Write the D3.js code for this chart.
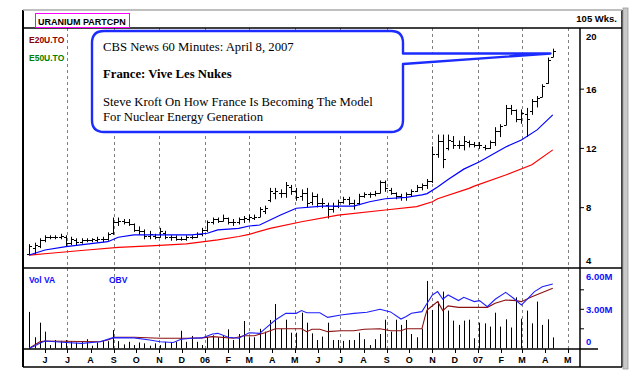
<!DOCTYPE html>
<html>
<head>
<meta charset="utf-8">
<script src="https://d3js.org/d3.v7.min.js"></script>
<style>
  body { margin: 0; background: #fff; }
  text { font-family: "Liberation Sans", Arial, sans-serif; }
  .serif { font-family: "Liberation Serif", "Times New Roman", serif; }
</style>
</head>
<body>
<svg id="chart" width="644" height="384"></svg>
<script>
// weekly bars, first one dated 11 May 2005
const firstWeek = new Date(2005, 4, 11);

const opens  = [4.9,5.3,5.4,5.8,6.0,6.0,6.0,6.0,5.6,5.8,5.7,5.8,5.8,5.8,5.9,5.9,6.3,7.0,7.1,7.0,
                6.9,6.5,6.4,6.1,6.1,6.0,6.3,6.0,6.0,5.9,5.9,6.0,6.0,6.2,6.5,7.0,7.2,7.1,7.3,7.0,
                7.0,7.2,7.2,7.3,7.4,7.8,8.5,9.0,9.0,9.0,9.4,9.1,8.8,9.0,8.4,8.8,8.3,8.2,7.9,8.1,
                8.4,8.6,8.3,8.3,8.8,8.9,8.9,9.0,9.7,9.2,9.0,8.8,8.7,8.9,9.1,9.4,9.5,9.8,11.6,12.5,
                12.0,12.5,12.2,12.2,12.4,12.3,12.2,12.1,12.0,12.4,13.2,13.6,14.7,14.6,14.0,14.3,14.5,15.2,15.5,16.4,
                18.2];
const highs  = [5.5,5.6,5.9,6.1,6.1,6.1,6.2,6.1,6.0,5.9,5.9,5.9,5.9,6.0,6.0,6.3,7.3,7.3,7.2,7.2,
                6.9,6.7,6.5,6.4,6.2,6.6,6.4,6.1,6.1,6.0,6.1,6.1,6.3,6.6,7.1,7.3,7.3,7.5,7.3,7.2,
                7.3,7.4,7.5,7.5,8.0,8.1,9.3,9.3,9.2,9.7,9.5,9.3,9.2,9.3,9.0,8.9,8.6,8.3,8.3,8.5,
                8.7,8.7,8.5,8.9,9.0,9.0,9.1,9.8,9.8,9.3,9.0,8.9,9.0,9.2,9.5,9.6,9.9,12.1,12.9,12.9,
                12.9,12.8,12.5,12.8,12.5,12.4,12.4,12.2,12.5,13.4,13.6,14.9,14.9,14.6,14.6,14.7,15.3,15.5,16.3,18.1,
                18.7];
const lows   = [4.8,4.9,5.3,5.7,5.9,5.9,5.9,5.4,5.5,5.5,5.6,5.7,5.7,5.7,5.7,5.8,6.2,6.8,6.9,6.8,
                6.4,6.2,5.9,5.9,5.9,6.0,5.9,5.8,5.8,5.8,5.8,5.9,6.0,6.1,6.4,6.9,7.0,7.1,6.9,6.8,
                6.9,7.0,7.1,7.2,7.4,7.6,8.4,8.6,8.7,8.7,8.9,8.5,8.5,8.05,8.2,8.05,8.0,7.3,7.7,8.0,
                8.3,8.2,7.9,8.2,8.7,8.7,8.8,9.0,9.1,8.9,8.6,8.5,8.5,8.8,9.1,9.2,9.3,9.7,11.4,10.7,
                11.9,12.0,12.0,11.9,12.1,12.1,12.0,11.9,12.0,12.2,12.8,13.6,14.3,13.8,13.7,12.8,14.3,14.8,15.5,16.4,
                18.2];
const closes = [5.4,5.5,5.8,6.0,6.0,6.0,6.1,5.6,5.9,5.7,5.8,5.8,5.9,5.9,5.9,6.2,7.0,7.1,7.0,6.9,
                6.5,6.4,6.1,6.2,6.0,6.4,6.0,6.0,5.9,5.9,6.0,6.0,6.2,6.5,7.0,7.2,7.1,7.3,7.0,7.0,
                7.2,7.3,7.4,7.4,7.9,8.0,9.1,9.1,9.0,9.5,9.1,8.7,9.0,8.3,8.8,8.3,8.3,7.9,8.1,8.4,
                8.6,8.3,8.2,8.8,8.9,8.9,9.0,9.7,9.3,9.0,8.8,8.7,8.9,9.1,9.4,9.5,9.8,11.6,12.5,11.3,
                12.6,12.2,12.2,12.5,12.3,12.2,12.2,12.0,12.4,13.2,13.5,14.7,14.6,14.0,14.4,14.0,15.2,15.4,16.2,18.0,
                18.6];

// weekly volume, millions
const volumes = [2.8,0.85,1.97,1.28,0.25,0.64,0.55,0.64,0.55,0.45,0.55,0.7,0.2,0.45,0.55,0.55,1.4,0.55,0.3,0.5,
                 0.25,0.45,0.38,0.2,0.38,0.25,0.5,0.45,0.5,1.35,0.5,0.95,0.5,0.25,0.85,1.0,0.85,1.0,1.46,0.64,
                 1.1,2.1,0.85,0.85,1.5,1.28,2.18,3.41,1.5,2.2,1.2,1.2,2.74,1.97,1.15,0.64,0.9,1.97,0.64,0.64,
                 0.57,0.64,0.64,1.2,0.7,0.25,0.7,1.1,2.2,1.28,2.2,1.8,2.18,1.1,0.85,1.5,5.18,2.95,3.59,4.36,
                 2.9,2.13,1.8,2.13,2.2,0.77,1.97,1.92,1.67,2.74,1.67,2.23,1.6,3.92,2.28,2.9,1.92,3.59,1.8,2.23,
                 0.84];

// moving averages (week index, price)
const ema20Weeks  = [0,3,7,15,17,20,25,31,34,36,40,42,44,48,51,56,62,65,68,72,75,76,78,80,83,86,91,94,97,100];
const ema20Values = [4.8,5.14,5.37,5.7,6.0,6.16,6.16,6.16,6.27,6.5,6.6,6.76,6.83,7.5,7.96,8.1,8.1,8.4,8.6,8.7,8.86,8.95,9.4,9.9,10.6,11.1,12.1,12.57,13.25,14.26];
const ema50Weeks  = [0,4,11,17,24,30,36,40,42,46,52,59,68,74,77,78,84,85,91,96,100];
const ema50Values = [4.8,4.92,5.14,5.32,5.43,5.55,5.82,6.05,6.2,6.6,7.05,7.5,7.84,8.07,8.4,8.6,9.3,9.45,10.2,10.9,11.9];

// volume panel indicators, in volume-axis units (week index, value)
const obvWeeks  = [0,1,2,3,5,7,10,13.5,16,20,23,25,27.5,29,31,33,35,36,38,40,42,44,45,47,49,51,52,53,55.5,57,59.5,62,64.5,67,69,71,72,73,75,76,77,78,79,80,82,83,85,86,87.5,89,91,92.5,94,95,96.5,98,100];
const obvValues = [0,0.18,0.38,0.56,0.5,0.45,0.38,0.5,0.82,0.8,0.64,0.5,0.45,0.7,0.77,0.8,1.1,1.15,0.85,0.77,1.2,1.15,1.5,2.18,2.69,2.69,2.9,2.74,2.74,2.38,2.56,2.69,2.77,3.0,2.8,2.25,2.44,2.69,2.82,3.46,4.1,4.36,3.77,4.1,3.67,3.92,3.59,3.67,3.2,3.77,4.3,3.85,3.33,3.72,4.36,4.74,4.95];
const vaWeeks  = [0,2,3,13.5,15,16.4,20,25,30,33,35,39,41,43,45,47,52,53,54,55.5,57,59.5,62,64,67,69,71,72,75,75.6,76,78,79,80,82,85,87.5,89,91,93,94,96,98,100];
const vaValues = [0,0.5,0.56,0.5,0.64,0.85,0.85,0.77,0.77,0.8,0.9,0.77,0.97,0.97,1.2,1.5,1.5,1.28,1.46,1.46,1.28,1.35,1.35,1.46,1.5,1.35,1.35,1.5,1.5,2.44,2.95,3.59,2.9,3.26,3.15,3.15,3.15,3.46,3.72,3.67,3.59,3.97,4.3,4.62];

const priceTicks = [20, 16, 12, 8, 4];
const volTicks = [6, 3, 0];
const volTickLabels = ["6.00M", "3.00M", "0"];
const monthLabels = ["J","J","A","S","O","N","D","06","F","M","A","M","J","J","A","S","O","N","D","07","F","M","A","M"];
const firstMonth = new Date(2005, 5, 1);

const calloutLines = [
  {text: "CBS News 60 Minutes: April 8, 2007", bold: false},
  {text: "France: Vive Les Nukes", bold: true},
  {text: "Steve Kroft On How France Is Becoming The Model", bold: false},
  {text: "For Nuclear Energy Generation", bold: false}
];

var svg = d3.select("#chart");

// frame geometry
var left = 23, axisX = 580, right = 622;
var headTop = 10, priceTop = 28, priceBottom = 268, volBottom = 349, frameBottom = 367;

var x = d3.scaleTime()
  .domain([firstMonth, new Date(2007, 0, 1)])
  .range([45, 478]);
var y = d3.scaleLinear().domain([4, 20]).range([266.9, 29.9]);
var yv = d3.scaleLinear().domain([0, 6]).range([348.3, 270.3]);

function weekDate(i) {
  return new Date(firstWeek.getTime() + i * 7 * 864e5);
}
function wx(i) {
  return Math.round(x(weekDate(i))) + 0.5;
}

// gridlines every other month
var months = d3.range(monthLabels.length).map(function(k) {
  return d3.timeMonth.offset(firstMonth, k);
});
svg.append("g").selectAll("line")
  .data(months.filter(function(d, k) { return k % 2 == 1; }))
  .enter().append("line")
  .attr("x1", function(d) { return Math.round(x(d)) + 0.5; })
  .attr("x2", function(d) { return Math.round(x(d)) + 0.5; })
  .attr("y1", priceTop)
  .attr("y2", volBottom)
  .attr("stroke", "#808080")
  .attr("stroke-dasharray", "3,3");

// price bars
var bars = svg.append("g").attr("stroke", "#000").attr("stroke-width", 1);
closes.forEach(function(c, i) {
  var cx = wx(i);
  bars.append("line").attr("x1", cx).attr("x2", cx)
    .attr("y1", y(highs[i]) - 0.5).attr("y2", y(lows[i]) + 0.5);
  bars.append("line").attr("x1", cx - 2.5).attr("x2", cx)
    .attr("y1", Math.round(y(opens[i])) + 0.5).attr("y2", Math.round(y(opens[i])) + 0.5);
  bars.append("line").attr("x1", cx).attr("x2", cx + 2.5)
    .attr("y1", Math.round(y(c)) + 0.5).attr("y2", Math.round(y(c)) + 0.5);
});

// moving averages
var priceLine = d3.line()
  .x(function(d) { return x(weekDate(d[0])); })
  .y(function(d) { return y(d[1]); });
svg.append("path")
  .datum(d3.zip(ema50Weeks, ema50Values))
  .attr("d", priceLine)
  .attr("fill", "none").attr("stroke", "#ff0000").attr("stroke-width", 1.2);
svg.append("path")
  .datum(d3.zip(ema20Weeks, ema20Values))
  .attr("d", priceLine)
  .attr("fill", "none").attr("stroke", "#0000ff").attr("stroke-width", 1.2);

// volume bars
svg.append("g").selectAll("line")
  .data(volumes)
  .enter().append("line")
  .attr("x1", function(d, i) { return wx(i); })
  .attr("x2", function(d, i) { return wx(i); })
  .attr("y1", function(d) { return yv(d); })
  .attr("y2", yv(0))
  .attr("stroke", "#000");

var volLine = d3.line()
  .x(function(d) { return x(weekDate(d[0])); })
  .y(function(d) { return yv(d[1]); });
svg.append("path")
  .datum(d3.zip(vaWeeks, vaValues))
  .attr("d", volLine)
  .attr("fill", "none").attr("stroke", "#8b1010").attr("stroke-width", 1.1);
svg.append("path")
  .datum(d3.zip(obvWeeks, obvValues))
  .attr("d", volLine)
  .attr("fill", "none").attr("stroke", "#2020ff").attr("stroke-width", 1.1);

// frame lines
var frame = svg.append("g").attr("stroke", "#000").attr("stroke-width", 1.5);
frame.append("line").attr("x1", left).attr("x2", right).attr("y1", priceTop).attr("y2", priceTop);
frame.append("line").attr("x1", left).attr("x2", right).attr("y1", priceBottom).attr("y2", priceBottom);
frame.append("line").attr("x1", left).attr("x2", axisX + 18).attr("y1", volBottom).attr("y2", volBottom);
frame.append("line").attr("x1", left).attr("x2", right).attr("y1", frameBottom).attr("y2", frameBottom);
frame.append("line").attr("x1", left).attr("x2", left).attr("y1", headTop).attr("y2", frameBottom)
  .attr("stroke-width", 2);
frame.append("line").attr("x1", axisX).attr("x2", axisX).attr("y1", priceTop).attr("y2", frameBottom);
frame.append("line").attr("x1", right).attr("x2", right).attr("y1", headTop).attr("y2", frameBottom);
svg.append("line").attr("x1", left).attr("x2", right).attr("y1", headTop).attr("y2", headTop)
  .attr("stroke", "#aaa").attr("stroke-width", 1.5);
svg.append("rect").attr("x", 623).attr("y", headTop - 2).attr("width", 5).attr("height", frameBottom - headTop + 4)
  .attr("fill", "#c8c8c8").attr("stroke", "#999").attr("stroke-width", 0.8);

// month ticks and labels
var xAxis = svg.append("g");
xAxis.selectAll("line").data(months).enter().append("line")
  .attr("x1", function(d) { return Math.round(x(d)) + 0.5; })
  .attr("x2", function(d) { return Math.round(x(d)) + 0.5; })
  .attr("y1", volBottom).attr("y2", volBottom + 4)
  .attr("stroke", "#000");
xAxis.selectAll("text").data(months).enter().append("text")
  .attr("x", function(d) { return x(d); })
  .attr("y", 363)
  .attr("text-anchor", "middle")
  .attr("font-size", 9).attr("font-weight", "bold")
  .text(function(d, k) { return monthLabels[k]; });

// right price axis
var pAxis = svg.append("g");
pAxis.selectAll("line").data(priceTicks.filter(function(d) { return d > 4 && d < 20; }))
  .enter().append("line")
  .attr("x1", axisX).attr("x2", axisX + 4)
  .attr("y1", function(d) { return y(d); }).attr("y2", function(d) { return y(d); })
  .attr("stroke", "#000");
pAxis.selectAll("text").data(priceTicks).enter().append("text")
  .attr("x", 586)
  .attr("y", function(d) { return Math.min(Math.max(y(d), 36), 260) + 3.5; })
  .attr("font-size", 9.5).attr("font-weight", "bold")
  .text(function(d) { return d; });

// right volume axis
var vAxis = svg.append("g");
vAxis.selectAll("line").data([1.5, 3, 4.5]).enter().append("line")
  .attr("x1", axisX).attr("x2", axisX + 4)
  .attr("y1", function(d) { return yv(d); }).attr("y2", function(d) { return yv(d); })
  .attr("stroke", "#000");
vAxis.selectAll("text").data(volTicks).enter().append("text")
  .attr("x", 586)
  .attr("y", function(d) { return Math.min(Math.max(yv(d), 276), 341) + 3.5; })
  .attr("font-size", 9.5).attr("font-weight", "bold").attr("fill", "#1010ff")
  .text(function(d, k) { return volTickLabels[k]; });

// header
svg.append("rect").attr("x", 35.5).attr("y", 13.5).attr("width", 94).attr("height", 14)
  .attr("fill", "none").attr("stroke", "#ff00ff").attr("stroke-width", 1);
svg.append("text").attr("x", 38).attr("y", 24.5)
  .attr("font-size", 9).attr("font-weight", "bold").text("URANIUM PARTCPN");
svg.append("text").attr("x", 617).attr("y", 22).attr("text-anchor", "end")
  .attr("font-size", 9.5).attr("font-weight", "bold").text("105 Wks.");

// legends
svg.append("text").attr("x", 29).attr("y", 43).attr("font-size", 8.5).attr("font-weight", "bold")
  .attr("fill", "#8b0000").text("E20U.TO");
svg.append("text").attr("x", 29).attr("y", 61).attr("font-size", 8.5).attr("font-weight", "bold")
  .attr("fill", "#008000").text("E50U.TO");
svg.append("text").attr("x", 29).attr("y", 283).attr("font-size", 8.5).attr("font-weight", "bold")
  .attr("fill", "#1010ff").text("Vol  VA");
svg.append("text").attr("x", 109).attr("y", 283).attr("font-size", 8.5).attr("font-weight", "bold")
  .attr("fill", "#1010ff").text("OBV");

// callout
var bx0 = 92, by0 = 31, bx1 = 403, by1 = 132, r = 12;
var tipX = wx(100) - 3, tipY = 53.5;
var callout = d3.path();
callout.moveTo(bx0 + r, by0);
callout.lineTo(bx1 - r, by0);
callout.quadraticCurveTo(bx1, by0, bx1, by0 + r);
callout.lineTo(bx1, tipY);
callout.lineTo(tipX, tipY);
callout.lineTo(bx1, 64);
callout.lineTo(bx1, by1 - r);
callout.quadraticCurveTo(bx1, by1, bx1 - r, by1);
callout.lineTo(bx0 + r, by1);
callout.quadraticCurveTo(bx0, by1, bx0, by1 - r);
callout.lineTo(bx0, by0 + r);
callout.quadraticCurveTo(bx0, by0, bx0 + r, by0);
svg.append("path").attr("d", callout.toString())
  .attr("fill", "#fff").attr("stroke", "#1c2cff").attr("stroke-width", 2.4)
  .attr("stroke-linejoin", "round");

var lineY = [51, 78, 106, 121];
svg.append("g").selectAll("text").data(calloutLines).enter().append("text")
  .attr("class", "serif")
  .attr("x", 103)
  .attr("y", function(d, k) { return lineY[k]; })
  .attr("font-size", 12.7)
  .attr("font-weight", function(d) { return d.bold ? "bold" : "normal"; })
  .text(function(d) { return d.text; });
</script>
</body>
</html>
